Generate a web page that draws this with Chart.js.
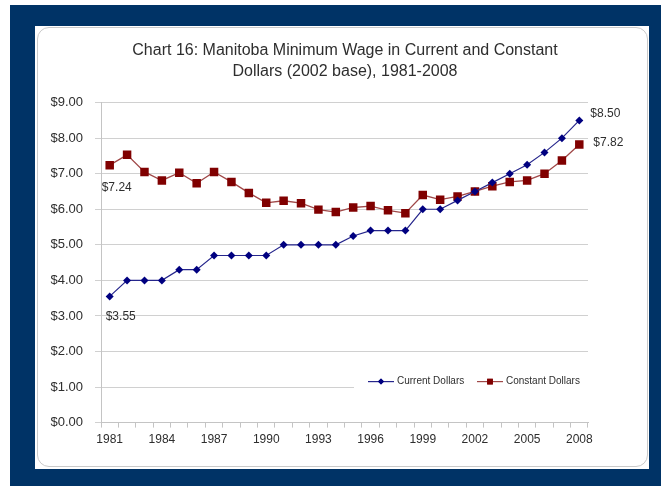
<!DOCTYPE html>
<html>
<head>
<meta charset="utf-8">
<script src="https://cdn.jsdelivr.net/npm/chart.js@4/dist/chart.umd.min.js"></script>
<style>
  body { margin: 0; background: #fff; font-family: "Liberation Sans", Arial, sans-serif; }
  #frame { position: absolute; left: 10px; top: 5px; width: 651px; height: 481px; background: #003366; }
  #panel { position: absolute; left: 35px; top: 26px; width: 614px; height: 443px; background: #fff; }
  #edge { position: absolute; left: 2px; top: 1px; right: 1px; bottom: 2px; border: 1px solid #cacaca; border-radius: 12px; }
  #wageChart { position: absolute; left: 0; top: 0; }
</style>
</head>
<body>
<div id="frame"></div>
<div id="panel">
  <div id="edge"></div>
  <canvas id="wageChart" width="614" height="443"></canvas>
</div>
<script>
const years = ["1981", "1982", "1983", "1984", "1985", "1986", "1987", "1988", "1989", "1990",
    "1991", "1992", "1993", "1994", "1995", "1996", "1997", "1998", "1999", "2000",
    "2001", "2002", "2003", "2004", "2005", "2006", "2007", "2008"];
const currentDollars = [3.55, 4.00, 4.00, 4.00, 4.30, 4.30, 4.70, 4.70, 4.70, 4.70,
    5.00, 5.00, 5.00, 5.00, 5.25, 5.40, 5.40, 5.40, 6.00, 6.00,
    6.25, 6.50, 6.75, 7.00, 7.25, 7.60, 8.00, 8.50];
const constantDollars = [7.24, 7.53, 7.05, 6.81, 7.03, 6.73, 7.05, 6.77, 6.46, 6.18,
    6.24, 6.17, 5.99, 5.92, 6.05, 6.09, 5.97, 5.89, 6.40, 6.27,
    6.36, 6.50, 6.65, 6.77, 6.81, 7.00, 7.37, 7.82];
const seriesNames = ["Current Dollars", "Constant Dollars"];
const titleLines = ["Chart 16: Manitoba Minimum Wage in Current and Constant", "Dollars (2002 base), 1981-2008"];

const FONT = "'Liberation Sans', Arial, sans-serif";
const TEXT = "#2e2e2e";
const BLUE = "#000080";
const RED = "#800000";

// end-point value labels ($3.55, $7.24, $8.50, $7.82)
const endLabels = {
    id: "endLabels",
    afterDatasetsDraw(chart) {
        const ctx = chart.ctx;
        const last = years.length - 1;
        const p = (ds, i) => chart.getDatasetMeta(ds).data[i];
        ctx.save();
        ctx.font = "12px " + FONT;
        ctx.fillStyle = TEXT;
        ctx.textBaseline = "middle";
        ctx.textAlign = "left";
        ctx.fillText("$" + currentDollars[0].toFixed(2), p(0, 0).x - 4, p(0, 0).y + 20);
        ctx.fillText("$" + constantDollars[0].toFixed(2), p(1, 0).x - 8, p(1, 0).y + 23);
        ctx.fillText("$" + currentDollars[last].toFixed(2), p(0, last).x + 11, p(0, last).y - 7);
        ctx.fillText("$" + constantDollars[last].toFixed(2), p(1, last).x + 14, p(1, last).y - 2);
        ctx.restore();
    }
};

// legend sitting inside the plot, on a white box over the gridlines
const insideLegend = {
    id: "insideLegend",
    beforeDatasetsDraw(chart) {
        const ctx = chart.ctx;
        const area = chart.chartArea;
        const cy = area.bottom - 41;
        ctx.save();
        ctx.fillStyle = "#fff";
        ctx.fillRect(area.left + 253, cy - 9, area.right - area.left - 253, 18);
        ctx.font = "10px " + FONT;
        ctx.textBaseline = "middle";
        ctx.textAlign = "left";
        const items = [
            { x: area.left + 267, color: "#26268c", marker: BLUE, style: "rectRot", r: 3 },
            { x: area.left + 376, color: "#a04848", marker: RED, style: "rect", r: 4 }
        ];
        items.forEach((it, i) => {
            ctx.strokeStyle = it.color;
            ctx.lineWidth = 1.2;
            ctx.beginPath();
            ctx.moveTo(it.x, cy);
            ctx.lineTo(it.x + 26, cy);
            ctx.stroke();
            ctx.fillStyle = it.marker;
            Chart.helpers.drawPoint(ctx, { pointStyle: it.style, radius: it.r, rotation: 0, borderWidth: 0 }, it.x + 13, cy);
            ctx.fill();
            ctx.fillStyle = TEXT;
            ctx.fillText(seriesNames[i], it.x + 29, cy);
        });
        ctx.restore();
    }
};

new Chart(document.getElementById("wageChart"), {
    type: "line",
    data: {
        labels: years,
        datasets: [
            {
                label: seriesNames[0],
                data: currentDollars,
                borderColor: "#26268c",
                borderWidth: 1.2,
                pointStyle: "rectRot",
                pointRadius: 4,
                pointBackgroundColor: BLUE,
                pointBorderColor: BLUE,
                pointBorderWidth: 0,
                tension: 0
            },
            {
                label: seriesNames[1],
                data: constantDollars,
                borderColor: "#a04848",
                borderWidth: 1.3,
                pointStyle: "rect",
                pointRadius: 6,
                pointBackgroundColor: RED,
                pointBorderColor: RED,
                pointBorderWidth: 0,
                tension: 0
            }
        ]
    },
    options: {
        responsive: false,
        animation: false,
        devicePixelRatio: 1,
        layout: { padding: { left: 6, right: 0, top: 0, bottom: 17 } },
        plugins: {
            legend: { display: false },
            tooltip: { enabled: false },
            title: {
                display: true,
                text: titleLines,
                color: TEXT,
                font: { family: FONT, size: 16, weight: "normal", lineHeight: 1.3 },
                padding: { top: 14, bottom: 21 }
            }
        },
        scales: {
            x: {
                offset: true,
                grid: { offset: true, drawOnChartArea: false, drawTicks: true, tickLength: 5, color: "#c4c4c4" },
                border: { color: "#c4c4c4" },
                ticks: {
                    autoSkip: false,
                    maxRotation: 0,
                    padding: 5,
                    color: TEXT,
                    font: { family: FONT, size: 12 },
                    callback: (v, i) => (i % 3 === 0 ? years[i] : "")
                }
            },
            y: {
                min: 0,
                max: 9,
                afterFit: (scale) => { scale.width = 60; },
                grid: { color: "#d0d0d0", tickLength: 6 },
                border: { color: "#c4c4c4" },
                ticks: {
                    stepSize: 1,
                    padding: 12,
                    color: TEXT,
                    font: { family: FONT, size: 13 },
                    callback: (v) => "$" + v.toFixed(2)
                }
            },
            // empty right-hand strip that leaves room for the $8.50 / $7.82 labels
            yRoom: {
                position: "right",
                min: 0,
                max: 9,
                afterFit: (scale) => { scale.width = 61; },
                grid: { display: false },
                border: { display: false },
                ticks: { display: false }
            }
        }
    },
    plugins: [endLabels, insideLegend]
});
</script>
</body>
</html>
